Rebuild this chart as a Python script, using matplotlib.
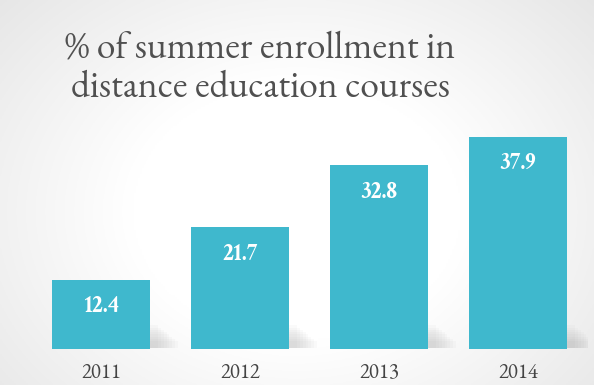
import numpy as np
import matplotlib
matplotlib.use("Agg")
import matplotlib.pyplot as plt

plt.rcParams["font.family"] = ["EB Garamond", "Crimson Text", "Liberation Serif", "DejaVu Serif"]

years = ["2011", "2012", "2013", "2014"]
values = [12.4, 21.7, 32.8, 37.9]
title = "% of summer enrollment in\ndistance education courses"

bar_color = "#3fb8cd"
W, H = 594, 385
fig = plt.figure(figsize=(W / 100, H / 100), dpi=100)

# subtle background vignette
bg = fig.add_axes([0, 0, 1, 1], zorder=-10)
yy, xx = np.mgrid[0:1:200j, 0:1:300j]
d = np.sqrt(((xx - 0.5) / 0.62) ** 2 + ((yy - 0.55) / 0.75) ** 2)
shade = 1 - 0.09 * np.clip(d - 0.45, 0, None) / 0.6
img = np.dstack([shade, shade, shade])
bg.imshow(np.clip(img, 0, 1), extent=[0, 1, 0, 1], aspect="auto")
bg.axis("off")

ax = fig.add_axes([31.5 / W, 36 / H, 556 / W, 224 / H])
ax.patch.set_alpha(0)
x = np.arange(len(years))
# soft shadow near the bottom right of each bar
for k in range(8):
    ax.bar(x + 0.06 + 0.02 * k, 4.0 - 0.4 * k, width=0.705, bottom=0.2,
           color="#707070", alpha=0.03, zorder=1, linewidth=0)
ax.bar(x, values, width=0.705, color=bar_color, zorder=2, linewidth=0)
ax.set_xlim(-0.5, 3.5)
ax.set_ylim(0, 40)
ax.set_xticks(x)
ax.set_xticklabels(years, fontsize=15, color="#444444")
ax.tick_params(axis="x", length=0, pad=10)
ax.set_yticks([])
for s in ax.spines.values():
    s.set_visible(False)

for xi, v in zip(x, values):
    ax.annotate(f"{v}", (xi, v), xytext=(0, -19), textcoords="offset points",
                ha="center", va="center", color="white", fontweight="bold",
                family=["Crimson Text", "Liberation Serif"], fontsize=17, zorder=3)

fig.text(0.438, 1 - 69 / H, title, ha="center", va="center",
         fontsize=27, color="#505050", linespacing=1.05)

fig.savefig("out.png", dpi=100)
